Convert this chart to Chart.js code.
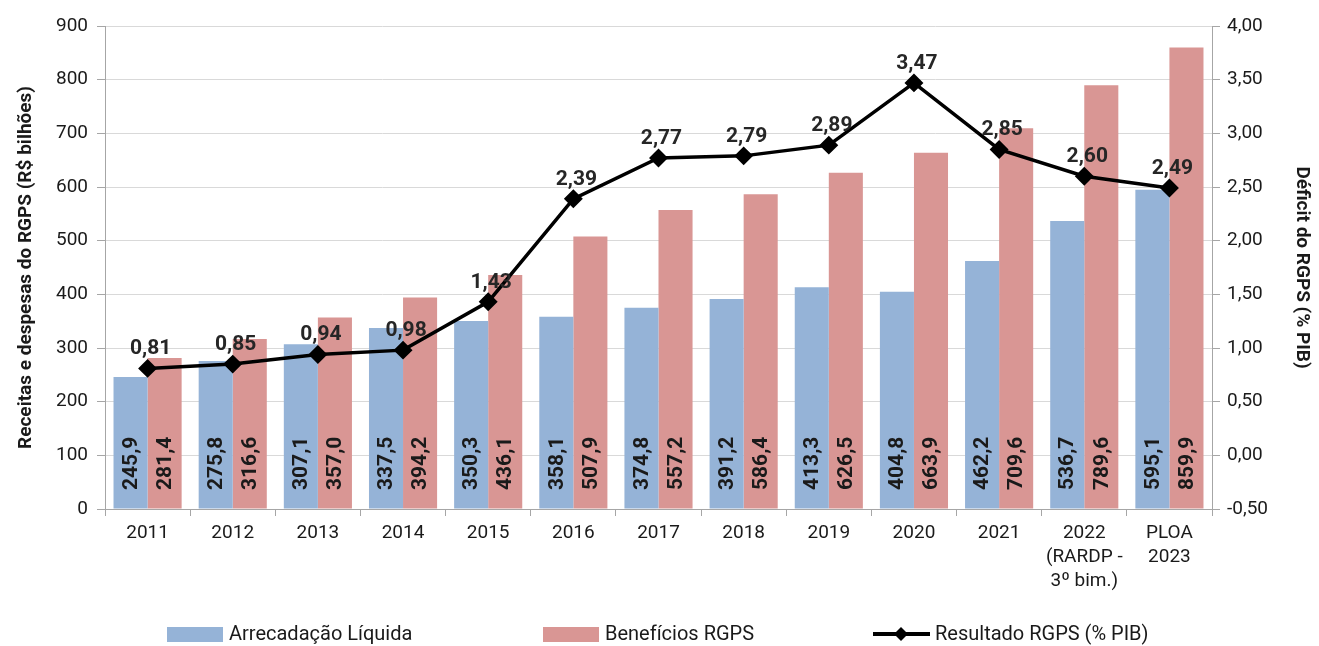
<!DOCTYPE html>
<html>
<head>
<meta charset="utf-8">
<script src="https://cdn.jsdelivr.net/npm/chart.js@4.4.0/dist/chart.umd.min.js"></script>
<style>
  html, body { margin: 0; padding: 0; background: #fff; }
  #wrap { width: 1319px; height: 646px; position: relative; }
</style>
</head>
<body>
<div id="wrap"><canvas id="rgpsChart"></canvas></div>
<script>
// Categories (multi-line labels as arrays)
var anos = ['2011', '2012', '2013', '2014', '2015', '2016', '2017', '2018', '2019', '2020', '2021',
  ['2022', '(RARDP -', '3º bim.)'], ['PLOA', '2023']];

// Series values
var arrecadacao = [245.9, 275.8, 307.1, 337.5, 350.3, 358.1, 374.8, 391.2, 413.3, 404.8, 462.2, 536.7, 595.1];
var beneficios  = [281.4, 316.6, 357.0, 394.2, 436.1, 507.9, 557.2, 586.4, 626.5, 663.9, 709.6, 789.6, 859.9];
var resultado   = [0.81, 0.85, 0.94, 0.98, 1.43, 2.39, 2.77, 2.79, 2.89, 3.47, 2.85, 2.60, 2.49];

var azul = '#95b3d7';
var vermelho = '#d99694';
var textoCor = '#1a1a1a';

Chart.defaults.font.family = 'Roboto';
Chart.defaults.color = textoCor;

// format with decimal comma
function fmt(v, casas) {
  return v.toFixed(casas).replace('.', ',');
}

// Value labels: rotated inside bars, and above the line points
var rotulos = {
  id: 'rotulos',
  afterDatasetsDraw: function (chart) {
    var ctx = chart.ctx;
    var base = chart.scales.y.getPixelForValue(0);
    ctx.save();
    ctx.font = 'bold 21px Roboto';
    ctx.fillStyle = textoCor;
    [0, 1].forEach(function (i) {
      var meta = chart.getDatasetMeta(i);
      meta.data.forEach(function (bar, j) {
        ctx.save();
        ctx.translate(bar.x + 1, base - 19);
        ctx.rotate(-Math.PI / 2);
        ctx.textAlign = 'left';
        ctx.textBaseline = 'middle';
        ctx.fillText(fmt(chart.data.datasets[i].data[j], 1), 0, 0);
        ctx.restore();
      });
    });
    var linha = chart.getDatasetMeta(2);
    ctx.font = 'bold 21px Roboto';
    ctx.fillStyle = '#262626';
    ctx.textAlign = 'center';
    ctx.textBaseline = 'alphabetic';
    linha.data.forEach(function (pt, j) {
      ctx.fillText(fmt(resultado[j], 2), pt.x + 3, pt.y - 14);
    });
    ctx.restore();
  }
};

// Legend drawn at bottom with spacing like the original
var legendaItens = [
  { tipo: 'caixa', x: 167, texto: 'Arrecadação Líquida', cor: azul },
  { tipo: 'caixa', x: 543, texto: 'Benefícios RGPS', cor: vermelho },
  { tipo: 'linha', x: 873, texto: 'Resultado RGPS (% PIB)', cor: '#000' }
];
var legenda = {
  id: 'legenda',
  afterDraw: function (chart) {
    var ctx = chart.ctx;
    var y = 634;
    ctx.save();
    legendaItens.forEach(function (it) {
      if (it.tipo === 'caixa') {
        ctx.fillStyle = it.cor;
        ctx.fillRect(it.x, y - 7, 56, 15);
      } else {
        ctx.strokeStyle = it.cor;
        ctx.lineWidth = 4;
        ctx.beginPath();
        ctx.moveTo(it.x, y);
        ctx.lineTo(it.x + 57, y);
        ctx.stroke();
        ctx.fillStyle = it.cor;
        ctx.beginPath();
        ctx.moveTo(it.x + 28, y - 7);
        ctx.lineTo(it.x + 35, y);
        ctx.lineTo(it.x + 28, y + 7);
        ctx.lineTo(it.x + 21, y);
        ctx.closePath();
        ctx.fill();
      }
      ctx.font = '20px Roboto';
      ctx.fillStyle = textoCor;
      ctx.textAlign = 'left';
      ctx.textBaseline = 'middle';
      ctx.fillText(it.texto, it.x + 62, y + 1);
    });
    ctx.restore();
  }
};

var ctx = document.getElementById('rgpsChart').getContext('2d');

var rgpsChart = new Chart(ctx, {
  type: 'bar',
  data: {
    labels: anos,
    datasets: [
      {
        label: 'Arrecadação Líquida',
        data: arrecadacao,
        backgroundColor: azul,
        yAxisID: 'y',
        order: 1,
        categoryPercentage: 0.8,
        barPercentage: 1.0
      },
      {
        label: 'Benefícios RGPS',
        data: beneficios,
        backgroundColor: vermelho,
        yAxisID: 'y',
        order: 1,
        categoryPercentage: 0.8,
        barPercentage: 1.0
      },
      {
        type: 'line',
        label: 'Resultado RGPS (% PIB)',
        data: resultado,
        yAxisID: 'y1',
        borderColor: '#000',
        backgroundColor: '#000',
        borderWidth: 3.5,
        pointStyle: 'rectRot',
        pointRadius: 7,
        pointBackgroundColor: '#000',
        pointBorderColor: '#000',
        tension: 0,
        order: 0
      }
    ]
  },
  options: {
    responsive: true,
    maintainAspectRatio: false,
    animation: false,
    layout: { padding: { top: 26, left: 0, right: 0, bottom: 0 } },
    plugins: {
      legend: { display: false },
      tooltip: { enabled: false }
    },
    scales: {
      x: {
        afterFit: function (scale) { scale.height = 137; },
        grid: {
          display: true,
          drawOnChartArea: false,
          offset: true,
          tickLength: 7,
          color: '#a6a6a6'
        },
        border: { color: '#a6a6a6' },
        ticks: {
          padding: 5,
          maxRotation: 0,
          autoSkip: false,
          font: { size: 19, lineHeight: 1.27 },
          color: textoCor
        }
      },
      y: {
        position: 'left',
        min: 0,
        max: 900,
        afterFit: function (scale) { scale.width = 105; },
        ticks: {
          stepSize: 100,
          padding: 9,
          font: { size: 19 },
          color: textoCor
        },
        grid: {
          color: '#d9d9d9',
          tickColor: '#a6a6a6',
          tickLength: 8
        },
        border: { color: '#a6a6a6' },
        title: {
          display: true,
          text: 'Receitas e despesas do RGPS (R$ bilhões)',
          font: { size: 19, weight: 'bold' },
          color: textoCor,
          padding: { top: 15, bottom: 0 }
        }
      },
      y1: {
        position: 'right',
        min: -0.5,
        max: 4,
        afterFit: function (scale) { scale.width = 107; },
        ticks: {
          stepSize: 0.5,
          padding: 7,
          font: { size: 19 },
          color: textoCor,
          callback: function (v) { return fmt(v, 2); }
        },
        grid: {
          drawOnChartArea: false,
          color: '#a6a6a6',
          tickLength: 8
        },
        border: { color: '#a6a6a6' },
        title: {
          display: true,
          text: 'Déficit do RGPS (% PIB)',
          font: { size: 19, weight: 'bold' },
          color: textoCor,
          padding: { top: 6, bottom: 0 }
        }
      }
    }
  },
  plugins: [rotulos, legenda]
});
</script>
</body>
</html>
